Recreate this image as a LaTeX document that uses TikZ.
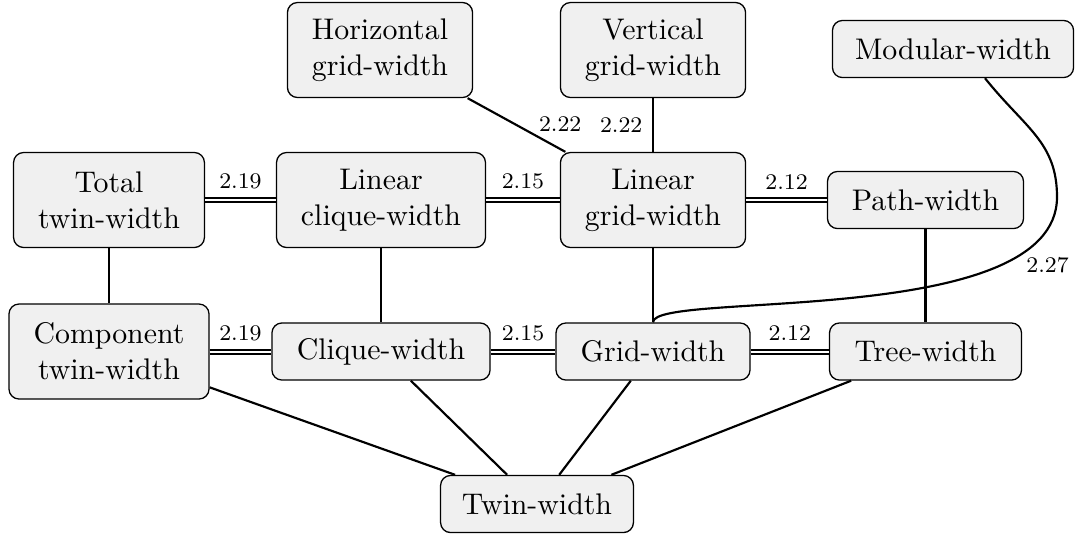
\documentclass[tikz,border=0pt]{standalone}
\usetikzlibrary{calc}
\definecolor{boxgray}{HTML}{F0F0F0}
\begin{document}
\begin{tikzpicture}[x=0.3484pt,y=-0.3484pt,
  box/.style={draw=black, line width=0.45pt, fill=boxgray, rounded corners=3.5pt,
              align=center, inner xsep=2pt, inner ysep=2pt,
              font=\fontsize{10.4}{12.5}\selectfont},
  one/.style={box, minimum height=19.9pt},
  two/.style={box, minimum height=33.1pt},
  link/.style={line width=0.75pt},
  equiv/.style={double, line width=0.7pt, double distance=0.7pt},
  lab/.style={font=\fontsize{7.8}{9}\selectfont}]
\useasboundingbox (0,0) rectangle (1080,533);

% top row
\node[two, minimum width=64.5pt] (hgw) at (380,50)  {Horizontal\\grid-width};
\node[two, minimum width=64.5pt] (vgw) at (653,50)  {Vertical\\grid-width};
\node[one, minimum width=84pt]   (mw)  at (953,49)  {Modular-width};

% linear row
\node[two, minimum width=66.5pt] (ttw) at (109,200) {Total\\twin-width};
\node[two, minimum width=72.8pt] (lcw) at (381,200) {Linear\\clique-width};
\node[two, minimum width=64.5pt] (lgw) at (653,200) {Linear\\grid-width};
\node[one, minimum width=68.3pt] (pw)  at (925.5,200) {Path-width};

% general row
\node[two, minimum width=69.7pt] (ctw) at (109,351.5) {Component\\twin-width};
\node[one, minimum width=76pt]   (cw)  at (381,351.5) {Clique-width};
\node[one, minimum width=67.6pt] (gw)  at (653,351.5) {Grid-width};
\node[one, minimum width=66.9pt] (tw)  at (925.5,351.5) {Tree-width};

% bottom
\node[one, minimum width=67.2pt] (twin) at (537,504) {Twin-width};

% equivalences
\draw[equiv] (ttw) -- node[lab, midway, above] {2.19} (lcw);
\draw[equiv] (lcw) -- node[lab, midway, above] {2.15} (lgw);
\draw[equiv] (lgw) -- node[lab, midway, above] {2.12} (pw);
\draw[equiv] (ctw) -- node[lab, midway, above] {2.19} (cw);
\draw[equiv] (cw)  -- node[lab, midway, above] {2.15} (gw);
\draw[equiv] (gw)  -- node[lab, midway, above] {2.12} (tw);

% upper links
\draw[link] (hgw) -- node[lab, pos=0.69, anchor=south west, inner sep=1pt] {2.22} (lgw);
\draw[link] (vgw) -- node[lab, midway, left] {2.22} (lgw);

% vertical links
\draw[link] (ttw) -- (ctw);
\draw[link] (lcw) -- (cw);
\draw[link] (lgw) -- (gw);
\draw[link] (pw)  -- (tw);

% links to twin-width
\draw[link] (ctw) -- (twin);
\draw[link] (cw)  -- (twin);
\draw[link] (gw)  -- (twin);
\draw[link] (tw)  -- (twin);

% modular-width curve
\coordinate (bend) at (1057,197);
\draw[link] ($(mw.south)+(32,0)$) .. controls +(40,50) and +(0,-55) .. (bend)
  .. controls +(0,133) and +(0,-32) .. (gw.north)
  node[lab, pos=0.18, anchor=north west, inner sep=1pt] {2.27};
\end{tikzpicture}
\end{document}
